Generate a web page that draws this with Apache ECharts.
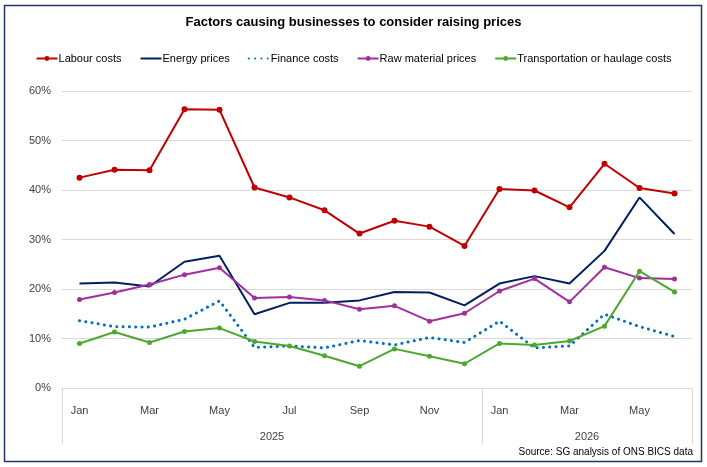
<!DOCTYPE html>
<html>
<head>
<meta charset="utf-8">
<script src="https://cdn.jsdelivr.net/npm/echarts@6/dist/echarts.min.js"></script>
<style>html,body{margin:0;padding:0;background:#fff}#c{width:707px;height:467px}</style>
</head>
<body>
<div id="c"></div>
<script>
const months = ['Jan','Feb','Mar','Apr','May','Jun','Jul','Aug','Sep','Oct','Nov','Dec',
                'Jan','Feb','Mar','Apr','May','Jun'];
const years = ['2025','2026'];
const yearSpans = [[0,12],[12,18]];
const labour =    [42.5,44.1,44.0,56.3,56.2,40.5,38.5,35.9,31.2,33.8,32.6,28.7,40.2,39.9,36.5,45.3,40.4,39.3];
const energy =    [21.1,21.3,20.5,25.5,26.7,14.9,17.2,17.2,17.7,19.4,19.3,16.7,21.1,22.6,21.1,27.7,38.5,31.1];
const finance =   [13.6,12.4,12.3,13.9,17.6,8.2,8.5,8.1,9.6,8.7,10.2,9.2,13.5,8.1,8.5,14.9,12.4,10.4];
const rawMat =    [17.9,19.3,20.9,22.9,24.3,18.2,18.4,17.7,15.9,16.6,13.5,15.1,19.6,22.1,17.4,24.4,22.2,22.0];
const transport = [9.0,11.3,9.2,11.4,12.1,9.4,8.5,6.5,4.4,7.9,6.4,4.9,9.0,8.7,9.5,12.5,23.6,19.4];
const yTicks = [0,10,20,30,40,50,60];

const chart = echarts.init(document.getElementById('c'), null, {renderer:'canvas'});
const font = 'Liberation Sans, Arial, sans-serif';
const yearTickVals = [0].concat(yearSpans.map(s => s[1]));
const yearLabelVals = yearSpans.map(s => (s[0]+s[1])/2);

chart.setOption({
  animation: false,
  backgroundColor: '#fff',
  textStyle: {fontFamily: font},
  title: [{
    text: 'Factors causing businesses to consider raising prices',
    left: 'center', top: 11,
    textStyle: {fontSize: 13, fontWeight: 'bold', color: '#000', fontFamily: font}
  },{
    text: 'Source: SG analysis of ONS BICS data',
    right: 9, top: 442,
    textStyle: {fontSize: 10, fontWeight: 'normal', color: '#000', fontFamily: font}
  }],
  legend: {
    top: 48, left: 'center',
    itemWidth: 21, itemHeight: 6, itemGap: 18,
    textStyle: {fontSize: 11, color: '#000', fontFamily: font, padding:[0,0,0,-4]},
    data: [
      {name: 'Labour costs'},
      {name: 'Energy prices', itemStyle: {opacity: 0}},
      {name: 'Finance costs', itemStyle: {opacity: 0}},
      {name: 'Raw material prices'},
      {name: 'Transportation or haulage costs'}
    ]
  },
  graphic: [{
    type: 'rect', shape: {x: 4.5, y: 5.5, width: 697, height: 456},
    style: {fill: 'none', stroke: '#1F3864', lineWidth: 1.5}, silent: true, z: 100
  }],
  grid: {left: 62, right: 15, top: 91, bottom: 79},
  xAxis: [{
    type: 'category', data: months, boundaryGap: true,
    axisLine: {show: true, lineStyle: {color: '#d9d9d9', width: 1}},
    axisTick: {show: false},
    axisLabel: {interval: 1, margin: 17, fontSize: 11, color: '#404040', fontFamily: font}
  },{
    type: 'value', min: 0, max: months.length, position: 'bottom',
    axisLine: {show: false},
    splitLine: {show: false},
    axisTick: {show: true, customValues: yearTickVals, length: 56, lineStyle: {color: '#d9d9d9'}},
    axisLabel: {show: true, customValues: yearLabelVals, margin: 43, fontSize: 11, color: '#404040', fontFamily: font,
      formatter: v => { const i = yearLabelVals.indexOf(v); return i >= 0 ? years[i] : ''; }}
  }],
  yAxis: {
    type: 'value', min: 0, max: 60, interval: 10,
    axisLine: {show: false}, axisTick: {show: false},
    splitLine: {lineStyle: {color: '#d9d9d9', width: 1}},
    axisLabel: {formatter: v => yTicks.includes(v) ? v + '%' : '', margin: 11, fontSize: 11, color: '#404040', fontFamily: font}
  },
  series: [{
    name: 'Labour costs', type: 'line', data: labour,
    symbol: 'circle', symbolSize: 6, showSymbol: true,
    itemStyle: {color: '#C00000'}, lineStyle: {color: '#C00000', width: 2}
  },{
    name: 'Energy prices', type: 'line', data: energy,
    symbol: 'none', itemStyle: {color: '#002060'}, lineStyle: {color: '#002060', width: 2}
  },{
    name: 'Finance costs', type: 'line', data: finance,
    symbol: 'none', itemStyle: {color: '#0070C0'},
    lineStyle: {color: '#0070C0', width: 3, type: [0.1, 6.2], cap: 'round'}
  },{
    name: 'Raw material prices', type: 'line', data: rawMat,
    symbol: 'circle', symbolSize: 5,
    itemStyle: {color: '#A0309A'}, lineStyle: {color: '#A0309A', width: 2}
  },{
    name: 'Transportation or haulage costs', type: 'line', data: transport,
    symbol: 'circle', symbolSize: 5,
    itemStyle: {color: '#4EA72E'}, lineStyle: {color: '#4EA72E', width: 2}
  }]
});
</script>
</body>
</html>
